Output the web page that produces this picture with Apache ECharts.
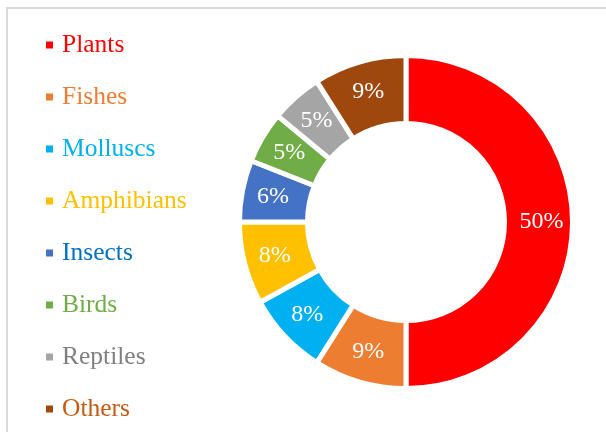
<!DOCTYPE html>
<html>
<head>
<meta charset="utf-8">
<script src="https://cdn.jsdelivr.net/npm/echarts@6/dist/echarts.min.js"></script>
<style>
  html, body { margin: 0; padding: 0; background: #ffffff; }
  #chart { width: 606px; height: 432px; }
</style>
</head>
<body>
<div id="chart"></div>
<script>
// Share of species by group (percent)
const categories = ['Plants', 'Fishes', 'Molluscs', 'Amphibians', 'Insects', 'Birds', 'Reptiles', 'Others'];
const shares = [50, 9, 8, 8, 6, 5, 5, 9];
const sliceColors = ['#FF0000', '#ED7D31', '#00B0F0', '#FFC000', '#4472C4', '#70AD47', '#A5A5A5', '#9E480E'];
const legendTextColors = ['#FF0000', '#ED7D31', '#00B0F0', '#FFC000', '#0070C0', '#70AD47', '#7F7F7F', '#C55A11'];

const serif = '"Liberation Serif", "Times New Roman", serif';

const chart = echarts.init(document.getElementById('chart'), null, { renderer: 'canvas' });

chart.setOption({
  backgroundColor: '#ffffff',
  animation: false,
  graphic: [{
    type: 'rect',
    shape: { x: 7, y: 8, width: 640, height: 460 },
    style: { fill: 'none', stroke: '#D9D9D9', lineWidth: 2 },
    silent: true
  }],
  legend: {
    orient: 'vertical',
    left: 44,
    top: 30,
    height: 420,
    padding: 0,
    icon: 'rect',
    itemWidth: 9,
    itemHeight: 9,
    itemGap: 22,
    textStyle: { fontFamily: serif, fontSize: 25.5, lineHeight: 30, padding: [0, 0, 0, 3] },
    data: categories.map((name, i) => ({
      name: name,
      textStyle: { color: legendTextColors[i] }
    }))
  },
  series: [{
    type: 'pie',
    center: [406, 222],
    radius: [98.5, 166.5],
    startAngle: 90,
    clockwise: true,
    avoidLabelOverlap: false,
    itemStyle: { borderColor: '#ffffff', borderWidth: 5 },
    label: {
      show: true,
      position: 'inside',
      formatter: '{c}%',
      color: '#ffffff',
      fontFamily: serif,
      fontSize: 24
    },
    labelLine: { show: false },
    emphasis: { disabled: true },
    data: categories.map((name, i) => ({
      name: name,
      value: shares[i],
      itemStyle: { color: sliceColors[i] }
    }))
  }]
});
</script>
</body>
</html>
